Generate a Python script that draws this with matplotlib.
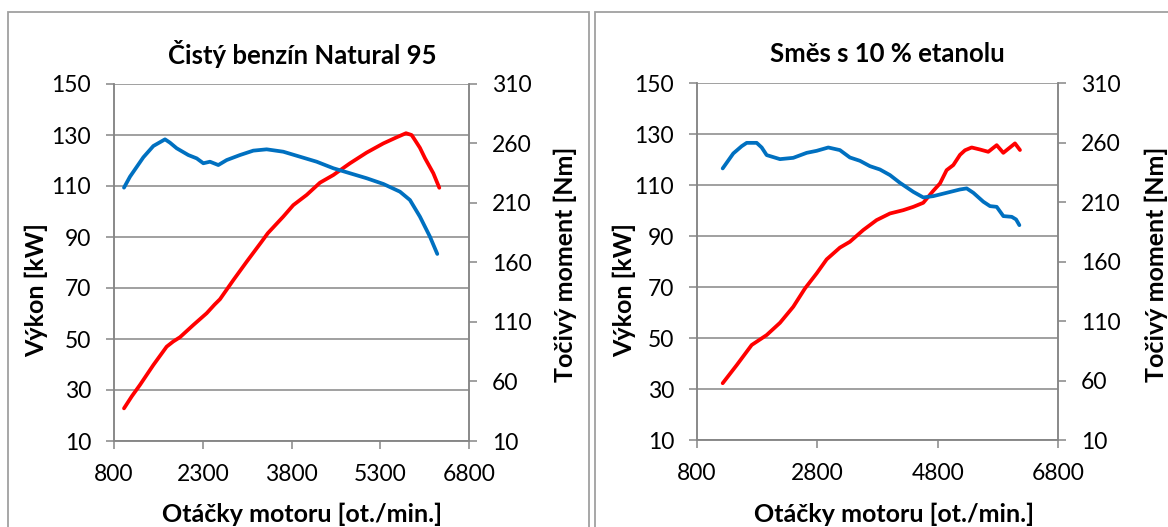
import matplotlib.pyplot as plt
from matplotlib.patches import Rectangle

plt.rcParams['font.family'] = ['Lato', 'DejaVu Sans']

W, H = 1168, 527
GRAY = '#868686'
RED = '#FF0000'
BLUE = '#0070C0'

kw_ticks = [10, 30, 50, 70, 90, 110, 130, 150]
nm_ticks = [10, 60, 110, 160, 210, 260, 310]
rpm_ticks_a = [800, 2300, 3800, 5300, 6800]
rpm_ticks_b = [800, 2800, 4800, 6800]

# Čistý benzín Natural 95
a_power_rpm = [969, 1100, 1239, 1465, 1690, 1800, 1915, 2141, 2366, 2500, 2591, 2817,
               3042, 3296, 3400, 3661, 3830, 4056, 4281, 4507, 4788, 5070, 5352, 5577,
               5735, 5830, 5887, 5970, 6056, 6197, 6298]
a_power_kw = [22.8, 27.5, 32.0, 39.8, 47.0, 49.0, 50.7, 55.5, 60.1, 63.5, 65.6, 73.1,
              80.3, 88.2, 91.5, 98.0, 102.5, 106.5, 111.3, 114.3, 118.9, 123.1, 126.7, 129.1,
              130.7, 130.0, 128.0, 125.0, 120.9, 115.0, 109.3]
a_torque_rpm = [969, 1070, 1296, 1465, 1662, 1746, 1859, 2056, 2198, 2310, 2422, 2563,
                2705, 2929, 3154, 3380, 3661, 3943, 4225, 4507, 4788, 5070, 5352, 5633,
                5802, 5971, 6140, 6264]
a_torque_nm = [222.9, 232.1, 248.4, 257.9, 263.5, 260.7, 256.0, 250.3, 247.5, 243.4, 244.7, 241.9,
               246.1, 250.3, 254.0, 255.1, 253.1, 248.9, 244.7, 239.2, 235.0, 230.8, 226.0, 219.5,
               212.5, 198.5, 181.7, 167.2]

# Směs s 10 % etanolu
b_power_rpm = [1227, 1460, 1709, 1958, 2179, 2400, 2595, 2789, 2955, 3175, 3341, 3563,
               3785, 4007, 4228, 4395, 4561, 4727, 4839, 4949, 5060, 5171, 5254, 5365,
               5503, 5641, 5781, 5891, 6085, 6168]
b_power_kw = [32.4, 39.5, 47.4, 51.3, 56.1, 62.4, 69.6, 75.5, 81.0, 85.6, 87.9, 92.5,
              96.4, 99.0, 100.3, 101.6, 103.2, 107.9, 110.8, 116.0, 118.0, 122.0, 123.8, 124.9,
              124.1, 123.2, 125.8, 122.8, 126.5, 123.9]
b_torque_rpm = [1227, 1403, 1543, 1626, 1792, 1875, 1958, 2179, 2400, 2623, 2789, 2982,
                3175, 3341, 3508, 3674, 3840, 4007, 4173, 4395, 4561, 4727, 4949, 5171,
                5282, 5393, 5559, 5670, 5781, 5892, 6031, 6103, 6158]
b_torque_nm = [238.6, 251.2, 257.3, 260.1, 260.1, 256.2, 249.8, 246.4, 247.5, 251.7, 253.4, 256.2,
               254.0, 247.8, 245.0, 240.5, 237.7, 233.0, 226.5, 218.9, 214.2, 215.3, 218.1, 220.9,
               221.8, 218.1, 210.6, 206.9, 206.3, 198.5, 197.9, 195.7, 190.9]


def fx(px):
    return px / W


def fy(py):
    return 1 - py / H


def draw_panel(fig, left, right, top, bottom, title, rpm_ticks,
               power_rpm, power_kw, torque_rpm, torque_nm,
               title_x, xlabel_x, ylabel_l_x, ylabel_r_x):
    ax = fig.add_axes([fx(left), fy(bottom), fx(right - left), (bottom - top) / H])
    ax2 = ax.twinx()

    ax.plot(power_rpm, power_kw, color=RED, linewidth=2.7, solid_capstyle='round')
    ax2.plot(torque_rpm, torque_nm, color=BLUE, linewidth=2.7, solid_capstyle='round')

    ax.set_xlim(800, 6800)
    ax.set_ylim(10, 150)
    ax2.set_ylim(10, 310)
    ax.set_xticks(rpm_ticks)
    ax.set_yticks(kw_ticks)
    ax2.set_yticks(nm_ticks)

    ax.grid(axis='y', color=GRAY, linewidth=1.1)
    ax.set_axisbelow(True)
    for a in (ax, ax2):
        for s in a.spines.values():
            s.set_color(GRAY)
            s.set_linewidth(1.1)
        a.spines['top'].set_visible(False)
        a.tick_params(direction='out', length=5.5, width=1.1, color=GRAY,
                      labelsize=16.5, pad=11)

    fig.text(fx(title_x), fy(54), title, ha='center', va='center',
             fontsize=18.5, fontweight='bold')
    fig.text(fx(xlabel_x), fy(514), 'Otáčky motoru [ot./min.]', ha='center',
             va='center', fontsize=18, fontweight='bold')
    fig.text(fx(ylabel_l_x), fy(290), 'Výkon [kW]', ha='center', va='center',
             rotation=90, fontsize=18, fontweight='bold')
    fig.text(fx(ylabel_r_x), fy(264), 'Točivý moment [Nm]', ha='center',
             va='center', rotation=90, fontsize=18, fontweight='bold')


fig = plt.figure(figsize=(W / 100, H / 100), dpi=100)

# chart frames
fig.patches.append(Rectangle((fx(8), fy(H + 10)), fx(589 - 8), (H + 10 - 12) / H,
                             transform=fig.transFigure, fill=False,
                             edgecolor='#A0A0A0', linewidth=1.3))
fig.patches.append(Rectangle((fx(595), fy(H + 10)), fx(1190 - 595), (H + 10 - 12) / H,
                             transform=fig.transFigure, fill=False,
                             edgecolor='#A0A0A0', linewidth=1.3))

draw_panel(fig, 114, 469, 84, 441, 'Čistý benzín Natural 95', rpm_ticks_a,
           a_power_rpm, a_power_kw, a_torque_rpm, a_torque_nm,
           title_x=302, xlabel_x=302, ylabel_l_x=36, ylabel_r_x=565)
draw_panel(fig, 697, 1058, 83.5, 440.3, 'Směs s 10 % etanolu', rpm_ticks_b,
           b_power_rpm, b_power_kw, b_torque_rpm, b_torque_nm,
           title_x=887, xlabel_x=894, ylabel_l_x=624, ylabel_r_x=1156)

fig.savefig('out.png', dpi=100)
